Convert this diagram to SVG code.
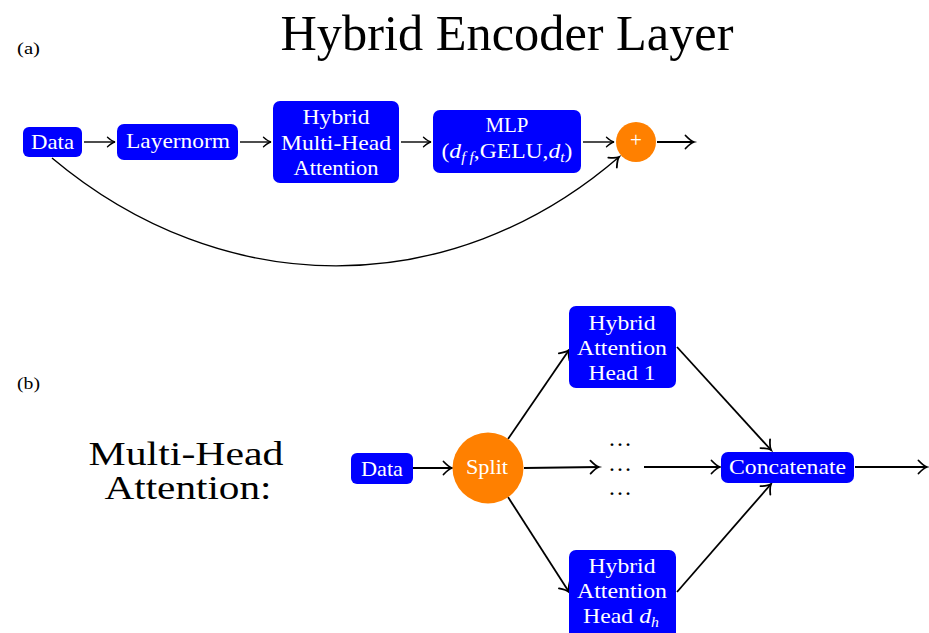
<svg xmlns="http://www.w3.org/2000/svg" width="929" height="633" viewBox="0 0 929 633">
<style>
  text { font-family: "Liberation Serif", "Times New Roman", serif; }
  .box { fill: #0000FF; }
  .orange { fill: #FF8000; }
  .lbl { fill: #FFFFFF; font-size: 21px; text-anchor: middle; }
  .title { fill: #000; text-anchor: middle; }
  .conn { fill: none; stroke: #000; stroke-width: 1.4; }
  .connb { fill: none; stroke: #000; stroke-width: 1.8; }
  .it { font-style: italic; }
</style>
<defs>
  <marker id="arr" viewBox="-10 -8 12 16" refX="0" refY="0" markerWidth="12" markerHeight="16" markerUnits="userSpaceOnUse" orient="auto" overflow="visible">
    <path d="M-7.5,-4.8 C-4.2,-1.9 -1.6,-0.4 0,0 C-1.6,0.4 -4.2,1.9 -7.5,4.8" fill="none" stroke="#000" stroke-width="1.4" stroke-linecap="round"/>
  </marker>
  <marker id="arrb" viewBox="-10 -8 12 16" refX="0" refY="0" markerWidth="12" markerHeight="16" markerUnits="userSpaceOnUse" orient="auto" overflow="visible">
    <path d="M-8.5,-6.5 C-4.8,-2.6 -1.7,-0.5 0,0 C-1.7,0.5 -4.8,2.6 -8.5,6.5" fill="none" stroke="#000" stroke-width="1.8" stroke-linecap="round"/>
  </marker>
</defs>

<text class="title" x="507" y="50" font-size="50" textLength="453" lengthAdjust="spacingAndGlyphs">Hybrid Encoder Layer</text>
<text x="17" y="54" font-size="17" textLength="23" lengthAdjust="spacingAndGlyphs">(a)</text>
<text x="17" y="389" font-size="17" textLength="23" lengthAdjust="spacingAndGlyphs">(b)</text>
<g id="mha-label">
  <text class="title" x="186" y="465" font-size="33" textLength="195" lengthAdjust="spacingAndGlyphs">Multi-Head</text>
  <text class="title" x="188" y="499" font-size="33" textLength="167" lengthAdjust="spacingAndGlyphs">Attention:</text>
</g>

<g id="connectors">
  <line class="conn" x1="84" y1="142" x2="115" y2="142" marker-end="url(#arr)"/>
  <line class="conn" x1="240" y1="142" x2="271" y2="142" marker-end="url(#arr)"/>
  <line class="conn" x1="401" y1="142" x2="431" y2="142" marker-end="url(#arr)"/>
  <line class="conn" x1="583" y1="142" x2="614" y2="142" marker-end="url(#arr)"/>
  <line class="connb" x1="657" y1="142" x2="694" y2="142" stroke-width="2.2" marker-end="url(#arrb)"/>
  <path class="conn" d="M52,158 C222,301 450,303 619,157" stroke-width="1.9" marker-end="url(#arrb)"/>

  <line class="connb" x1="413" y1="468" x2="452" y2="468" marker-end="url(#arrb)"/>
  <line class="connb" x1="508" y1="439" x2="569" y2="350" marker-end="url(#arrb)"/>
  <line class="connb" x1="508" y1="497" x2="569" y2="592" marker-end="url(#arrb)"/>
  <line class="connb" x1="524" y1="468" x2="599" y2="467" marker-end="url(#arrb)"/>
  <line class="connb" x1="644" y1="467" x2="720" y2="467" marker-end="url(#arrb)"/>
  <line class="connb" x1="677" y1="347" x2="771" y2="450" marker-end="url(#arrb)"/>
  <line class="connb" x1="677" y1="592" x2="771" y2="484" marker-end="url(#arrb)"/>
  <line class="connb" x1="855" y1="467" x2="927" y2="467" marker-end="url(#arrb)"/>
</g>

<g id="a-data">
  <rect class="box" x="23" y="127" width="59" height="30" rx="6"/>
  <text class="lbl" x="52.5" y="149" textLength="43" lengthAdjust="spacingAndGlyphs">Data</text>
</g>
<g id="a-layernorm">
  <rect class="box" x="117" y="124" width="121" height="36" rx="7"/>
  <text class="lbl" x="178" y="148" textLength="104" lengthAdjust="spacingAndGlyphs">Layernorm</text>
</g>
<g id="a-hmha">
  <rect class="box" x="273" y="101" width="126" height="82" rx="7"/>
  <text class="lbl" x="336" y="124" textLength="67" lengthAdjust="spacingAndGlyphs">Hybrid</text>
  <text class="lbl" x="336" y="150" textLength="110" lengthAdjust="spacingAndGlyphs">Multi-Head</text>
  <text class="lbl" x="336" y="175" textLength="85" lengthAdjust="spacingAndGlyphs">Attention</text>
</g>
<g id="a-mlp">
  <rect class="box" x="433" y="110" width="148" height="63" rx="7"/>
  <text class="lbl" x="507" y="132" textLength="43" lengthAdjust="spacingAndGlyphs">MLP</text>
  <text class="lbl" x="507" y="158" textLength="131" lengthAdjust="spacingAndGlyphs">(<tspan class="it">d</tspan><tspan class="it" font-size="14" dy="4">f f</tspan><tspan dy="-4">,GELU,</tspan><tspan class="it">d</tspan><tspan class="it" font-size="14" dy="4">t</tspan><tspan dy="-4">)</tspan></text>
</g>
<g id="a-plus">
  <circle class="orange" cx="636" cy="142" r="20"/>
  <text class="lbl" x="636" y="147" font-size="15">+</text>
</g>

<g id="b-data">
  <rect class="box" x="351" y="453" width="62" height="31" rx="6"/>
  <text class="lbl" x="382" y="476" textLength="42" lengthAdjust="spacingAndGlyphs">Data</text>
</g>
<g id="b-split">
  <circle class="orange" cx="488" cy="468" r="35.5"/>
  <text class="lbl" x="487" y="474" textLength="42" lengthAdjust="spacingAndGlyphs">Split</text>
</g>
<g id="b-head1">
  <rect class="box" x="569" y="306" width="107" height="82" rx="7"/>
  <text class="lbl" x="622" y="330" textLength="67" lengthAdjust="spacingAndGlyphs">Hybrid</text>
  <text class="lbl" x="622" y="355" textLength="90" lengthAdjust="spacingAndGlyphs">Attention</text>
  <text class="lbl" x="622" y="380" textLength="67" lengthAdjust="spacingAndGlyphs">Head 1</text>
</g>
<g id="b-dots">
  <text x="620" y="446" font-size="24" text-anchor="middle">…</text>
  <text x="620" y="471" font-size="24" text-anchor="middle">…</text>
  <text x="620" y="495" font-size="24" text-anchor="middle">…</text>
</g>
<g id="b-headdh">
  <rect class="box" x="569" y="550" width="107" height="90" rx="7"/>
  <text class="lbl" x="622" y="573" textLength="67" lengthAdjust="spacingAndGlyphs">Hybrid</text>
  <text class="lbl" x="622" y="598" textLength="90" lengthAdjust="spacingAndGlyphs">Attention</text>
  <text class="lbl" x="621" y="623" textLength="76" lengthAdjust="spacingAndGlyphs">Head <tspan class="it">d</tspan><tspan class="it" font-size="14" dy="4">h</tspan></text>
</g>
<g id="b-concat">
  <rect class="box" x="721" y="452" width="133" height="31" rx="7"/>
  <text class="lbl" x="787.5" y="474" textLength="117" lengthAdjust="spacingAndGlyphs">Concatenate</text>
</g>
</svg>
